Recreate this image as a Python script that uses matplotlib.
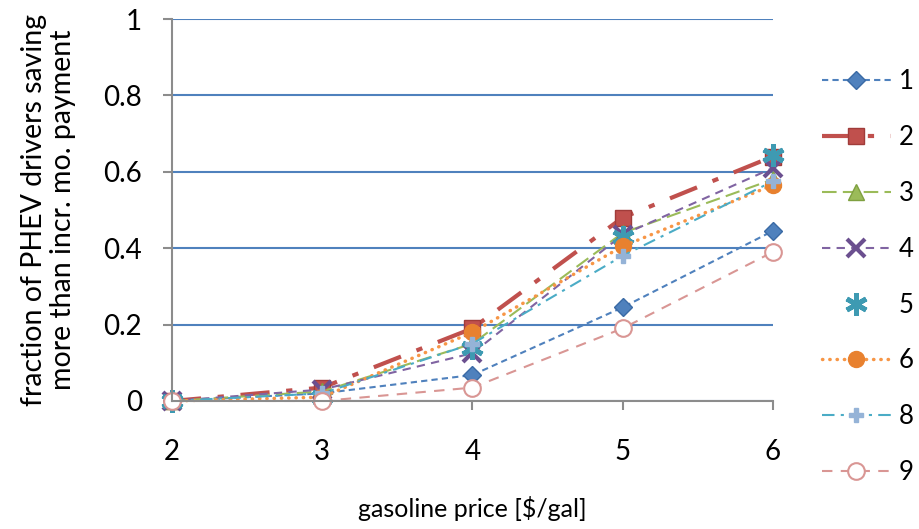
import matplotlib.pyplot as plt

plt.rcParams['font.family'] = ['Lato', 'DejaVu Sans']

gas_price = [2, 3, 4, 5, 6]
series_names = ['1', '2', '3', '4', '5', '6', '8', '9']
frac_1 = [0.0, 0.02, 0.068, 0.245, 0.445]
frac_2 = [0.0, 0.035, 0.19, 0.48, 0.64]
frac_3 = [0.0, 0.025, 0.15, 0.44, 0.58]
frac_4 = [0.0, 0.03, 0.125, 0.435, 0.61]
frac_5 = [0.0, 0.01, 0.14, 0.43, 0.645]
frac_6 = [0.0, 0.01, 0.18, 0.405, 0.565]
frac_8 = [0.0, 0.02, 0.15, 0.38, 0.575]
frac_9 = [0.0, 0.0, 0.035, 0.19, 0.39]

fig = plt.figure(figsize=(9.2, 5.29), dpi=100)
ax = fig.add_axes([0.187, 0.242, 0.653, 0.722])

common = dict(clip_on=False)
ax.plot(gas_price, frac_1, color='#4F81BD', lw=1.5, dashes=(3, 2),
        marker='D', ms=9.5, mfc='#4F81BD', mec='#3A6AA5', label=series_names[0], **common)
ax.plot(gas_price, frac_2, color='#C0504D', lw=3, dashes=(7, 4, 1.5, 4),
        marker='s', ms=11.5, mfc='#C0504D', mec='#A03C3A', label=series_names[1], **common)
ax.plot(gas_price, frac_3, color='#9BBB59', lw=1.5, dashes=(7, 3),
        marker='^', ms=12, mfc='#9BBB59', mec='#7FA040', label=series_names[2], **common)
ax.plot(gas_price, frac_4, color='#8064A2', lw=1.5, dashes=(4, 3),
        marker='x', ms=13, mew=3, mec='#6B4F8F', label=series_names[3], **common)
ax.plot(gas_price, frac_5, color='#4BACC6', lw=0,
        marker=(6, 2, 0), ms=16, mew=3.5, mec='#3E9AB2', label=series_names[4], **common)
ax.plot(gas_price, frac_6, color='#F79646', lw=2.5, linestyle=(0, (0.1, 2)),
        dash_capstyle='round', marker='o', ms=11.5, mfc='#E8812F', mec='#E8812F',
        label=series_names[5], **common)
ax.plot(gas_price, frac_8, color='#4BACC6', lw=1.5, dashes=(6, 3, 1.5, 3),
        marker='P', ms=10, mfc='#95B3D7', mec='#95B3D7', label=series_names[6], **common)
ax.plot(gas_price, frac_9, color='#D99694', lw=1.5, dashes=(5, 4),
        marker='o', ms=12, mfc='white', mec='#D99694', mew=1.5, label=series_names[7], **common)

ax.set_xlim(2, 6)
ax.set_ylim(0, 1)
ax.set_xticks(gas_price)
ax.set_yticks([0, 0.2, 0.4, 0.6, 0.8, 1])
ax.set_yticklabels(['0', '0.2', '0.4', '0.6', '0.8', '1'])
ax.yaxis.grid(True, color='#4F81BD', lw=1.5)
ax.set_axisbelow(True)
for s in ['top', 'right']:
    ax.spines[s].set_visible(False)
for s in ['left', 'bottom']:
    ax.spines[s].set_color('#8C8C8C')
    ax.spines[s].set_linewidth(1.5)
ax.tick_params(axis='y', direction='out', length=6.5, width=1.5, color='#8C8C8C',
               pad=15, labelsize=20)
ax.tick_params(axis='x', direction='out', length=6.5, width=1.5, color='#8C8C8C',
               pad=21, labelsize=20)

ax.set_xlabel('gasoline price [$/gal]', fontsize=18, labelpad=22)
ax.set_ylabel('fraction of PHEV drivers saving\nmore than incr. mo. payment',
              fontsize=20.5, labelpad=20, linespacing=1.15)

ax.legend(loc='upper left', bbox_to_anchor=(1.06, 0.902), frameon=False,
          fontsize=18.5, handlelength=2.7, handletextpad=0.3, labelspacing=1.2,
          borderpad=0)

fig.savefig('out.png', dpi=100)
